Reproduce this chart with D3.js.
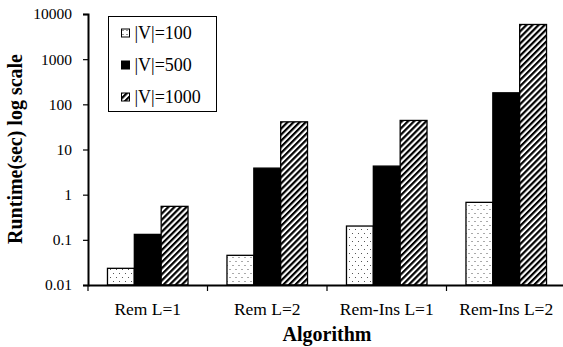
<!DOCTYPE html>
<html>
<head>
<meta charset="utf-8">
<script src="https://cdn.jsdelivr.net/npm/d3@7"></script>
<style>
  html, body { margin: 0; padding: 0; background: #fff; }
  svg { display: block; font-family: "Liberation Serif", "Times New Roman", serif; }
</style>
</head>
<body>
<svg id="chart" width="563" height="347"></svg>
<script>
// Runtime per algorithm, seconds, for three graph sizes
const algorithms = ["Rem L=1", "Rem L=2", "Rem-Ins L=1", "Rem-Ins L=2"];
const seriesNames = ["|V|=100", "|V|=500", "|V|=1000"];
const v100  = [0.0234, 0.0454, 0.202, 0.676];
const v500  = [0.132, 3.87, 4.29, 180];
const v1000 = [0.551, 41.0, 44.0, 5860];
const yTicks = [0.01, 0.1, 1, 10, 100, 1000, 10000];
const yTickLabels = ["0.01", "0.1", "1", "10", "100", "1000", "10000"];

const seriesValues = [v100, v500, v1000];
const fills = ["url(#dots)", "#000", "url(#hatch)"];
const swatchFills = ["url(#dotsSmall)", "#000", "url(#hatch)"];

const svg = d3.select("#chart");
const plot = { left: 88, right: 566, top: 14, bottom: 285 };

// fill patterns
const defs = svg.append("defs");
const dots = defs.append("pattern").attr("id", "dots")
  .attr("patternUnits", "userSpaceOnUse").attr("width", 6).attr("height", 8);
dots.append("rect").attr("width", 6).attr("height", 8).attr("fill", "#fff");
dots.append("rect").attr("x", 1).attr("y", 1).attr("width", 1).attr("height", 1).attr("fill", "#555");
dots.append("rect").attr("x", 4).attr("y", 5).attr("width", 1).attr("height", 1).attr("fill", "#555");

const dotsSmall = defs.append("pattern").attr("id", "dotsSmall")
  .attr("patternUnits", "userSpaceOnUse").attr("width", 4).attr("height", 4);
dotsSmall.append("rect").attr("width", 4).attr("height", 4).attr("fill", "#fff");
dotsSmall.append("rect").attr("x", 1).attr("y", 1).attr("width", 1).attr("height", 1).attr("fill", "#333");

const hatch = defs.append("pattern").attr("id", "hatch")
  .attr("patternUnits", "userSpaceOnUse").attr("width", 4.3).attr("height", 10)
  .attr("patternTransform", "rotate(45)");
hatch.append("rect").attr("width", 4.3).attr("height", 10).attr("fill", "#fff");
hatch.append("rect").attr("x", 0).attr("y", 0).attr("width", 2.2).attr("height", 10).attr("fill", "#000");

// scales
const x0 = d3.scaleBand().domain(algorithms).range([plot.left, plot.right]).padding(0);
const groupPad = x0.bandwidth() * 0.163;
const x1 = d3.scaleBand().domain(seriesNames)
  .range([groupPad, x0.bandwidth() - groupPad]).padding(0);
const y = d3.scaleLog().domain([0.01, 10000]).range([plot.bottom, plot.top]);

// bars
const groups = svg.append("g").selectAll("g")
  .data(algorithms).join("g")
  .attr("transform", d => `translate(${x0(d)},0)`);

groups.selectAll("rect")
  .data((d, i) => seriesNames.map((s, k) => ({ s, k, v: seriesValues[k][i] })))
  .join("rect")
  .attr("x", d => x1(d.s))
  .attr("y", d => y(d.v))
  .attr("width", x1.bandwidth())
  .attr("height", d => y(0.01) - y(d.v))
  .attr("fill", d => fills[d.k])
  .attr("stroke", "#000")
  .attr("stroke-width", 1.3);

// y axis
const yAxis = d3.axisLeft(y).tickValues(yTicks)
  .tickFormat((d, i) => yTickLabels[i]).tickSizeOuter(0).tickSize(5).tickPadding(11);
const gy = svg.append("g").attr("transform", `translate(${plot.left},0)`).call(yAxis);
gy.attr("font-family", null);
gy.select(".domain").attr("stroke", "#000").attr("stroke-width", 2);
gy.selectAll(".tick line").attr("stroke", "#000").attr("stroke-width", 1.2);
gy.selectAll(".tick text").attr("font-size", 15.5).attr("fill", "#000")
  .attr("font-family", "Liberation Serif");

// x axis
const xAxis = d3.axisBottom(x0).tickSize(0).tickSizeOuter(0).tickPadding(12);
const gx = svg.append("g").attr("transform", `translate(0,${plot.bottom})`).call(xAxis);
gx.attr("font-family", null);
gx.select(".domain").attr("stroke", "#000").attr("stroke-width", 2);
gx.selectAll(".tick text").attr("font-size", 17.5).attr("fill", "#000")
  .attr("font-family", "Liberation Serif").attr("dy", "1em");
// category boundary ticks
svg.append("g").selectAll("line")
  .data(algorithms).join("line")
  .attr("x1", d => x0(d)).attr("x2", d => x0(d))
  .attr("y1", plot.bottom).attr("y2", plot.bottom + 6)
  .attr("stroke", "#000").attr("stroke-width", 1.2);

// axis titles
svg.append("text")
  .attr("transform", `translate(22,${(53 + 245) / 2}) rotate(-90)`)
  .attr("text-anchor", "middle")
  .attr("font-size", 20).attr("font-weight", "bold")
  .text("Runtime(sec) log scale");
svg.append("text")
  .attr("x", (plot.left + plot.right) / 2).attr("y", 341)
  .attr("text-anchor", "middle")
  .attr("font-size", 20).attr("font-weight", "bold")
  .text("Algorithm");

// legend
const legend = svg.append("g").attr("transform", "translate(108.5,16.5)");
legend.append("rect").attr("width", 108).attr("height", 95)
  .attr("fill", "#fff").attr("stroke", "#000").attr("stroke-width", 1);
const items = legend.selectAll("g.item").data(seriesNames).join("g")
  .attr("class", "item")
  .attr("transform", (d, i) => `translate(13,${16.5 + i * 32})`);
items.append("rect").attr("x", 0).attr("y", -4).attr("width", 8).attr("height", 8)
  .attr("fill", (d, i) => swatchFills[i]).attr("stroke", "#000").attr("stroke-width", 1);
items.append("text").attr("x", 13).attr("y", 6)
  .attr("font-size", 18).attr("fill", "#000").text(d => d);
</script>
</body>
</html>
